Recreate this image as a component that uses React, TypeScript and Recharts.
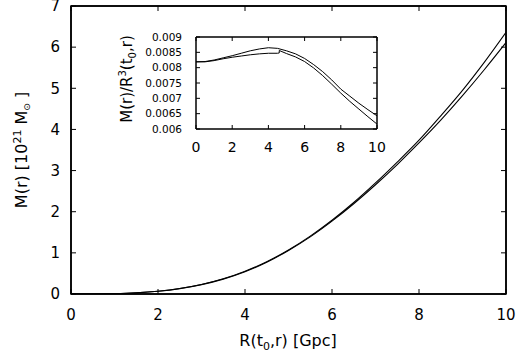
import React from 'react';
import { LineChart, Line, XAxis, YAxis, ReferenceArea } from 'recharts';

// Main panel: R(t0,r) in Gpc vs M(r) in 10^21 solar masses
const mainR = [0, 0.5, 1, 1.5, 2, 2.5, 3, 3.5, 4, 4.5, 5, 5.5, 6, 6.5, 7, 7.5, 8, 8.5, 9, 9.5, 10];
const massUpper = [0, 0.001, 0.0083, 0.028, 0.067, 0.132, 0.231, 0.369, 0.554, 0.786, 1.069, 1.406, 1.793, 2.224, 2.699, 3.206, 3.738, 4.33, 4.95, 5.63, 6.36];
const massLower = [0, 0.001, 0.0082, 0.028, 0.067, 0.131, 0.227, 0.362, 0.542, 0.772, 1.058, 1.389, 1.771, 2.194, 2.655, 3.147, 3.671, 4.225, 4.82, 5.45, 6.11];
const mainXTicks = [0, 2, 4, 6, 8, 10];
const mainYTicks = [0, 1, 2, 3, 4, 5, 6, 7];

// Inset: M(r)/R^3(t0,r)
const insetRUpper = [0, 0.5, 1, 1.5, 2, 2.5, 3, 3.5, 4, 4.5, 5, 5.5, 6, 6.5, 7, 7.5, 8, 8.5, 9, 9.5, 10];
const ratioUpper = [0.00819, 0.0082, 0.00825, 0.00832, 0.00839, 0.00847, 0.00855, 0.00861, 0.00865, 0.00863, 0.00855, 0.00845, 0.0083, 0.0081, 0.00787, 0.0076, 0.0073, 0.00707, 0.00684, 0.00663, 0.00643];
const insetRLower = [0, 0.5, 1, 1.5, 2, 2.5, 3, 3.5, 4, 4.5, 4.6, 4.6, 5, 5.5, 6, 6.5, 7, 7.5, 8, 8.5, 9, 9.5, 10];
const ratioLower = [0.00819, 0.00819, 0.00823, 0.00829, 0.00834, 0.00838, 0.00842, 0.00845, 0.00847, 0.00847, 0.00848, 0.00856, 0.00846, 0.00835, 0.0082, 0.00799, 0.00774, 0.00746, 0.00717, 0.0069, 0.00665, 0.0064, 0.00616];
const insetXTicks = [0, 2, 4, 6, 8, 10];
const insetYTicks = [0.006, 0.0065, 0.007, 0.0075, 0.008, 0.0085, 0.009];

const mainData = mainR.map((x, i) => ({ x, upper: massUpper[i], lower: massLower[i] }));
const insetUpperData = insetRUpper.map((x, i) => ({ x, v: ratioUpper[i] }));
const insetLowerData = insetRLower.map((x, i) => ({ x, v: ratioLower[i] }));

const FONT = 'DejaVu Sans';
const axisLine = { stroke: '#000', strokeWidth: 1.5 };

// inward ticks drawn together with labels
const bottomTick = (len: number, margin: number, fs: number) => (p: any) => (
  <g>
    <line x1={p.x} x2={p.x} y1={p.y - margin} y2={p.y - margin - len} stroke="#000" strokeWidth={1} />
    <text x={p.x} y={p.y} dy="0.71em" textAnchor="middle" fontFamily={FONT} fontSize={fs} fill="#000">
      {String(p.payload.value)}
    </text>
  </g>
);
const leftTick = (len: number, margin: number, fs: number) => (p: any) => (
  <g>
    <line x1={p.x + margin} x2={p.x + margin + len} y1={p.y} y2={p.y} stroke="#000" strokeWidth={1} />
    <text x={p.x} y={p.y} dy="0.355em" textAnchor="end" fontFamily={FONT} fontSize={fs} fill="#000">
      {String(p.payload.value)}
    </text>
  </g>
);
// top / right axes: tickSize 0 and tickMargin 0 put p at the plot edge
const topTick = (len: number) => (p: any) => (
  <g>
    <line x1={p.x} x2={p.x} y1={p.y} y2={p.y + len} stroke="#000" strokeWidth={1} />
  </g>
);
const rightTick = (len: number) => (p: any) => (
  <g>
    <line x1={p.x} x2={p.x - len} y1={p.y} y2={p.y} stroke="#000" strokeWidth={1} />
  </g>
);

const MainXTitle = () => (
  <text x={288} y={366} textAnchor="middle" fontFamily={FONT} fontSize={16} fill="#000">
    R(t<tspan dy={4} fontSize={11}>0</tspan><tspan dy={-4}>,r) [Gpc]</tspan>
  </text>
);

const MainYTitle = () => (
  <text x={0} y={0} transform="translate(27,170) rotate(-90)" textAnchor="middle" fontFamily={FONT} fontSize={16} fill="#000">
    M(r) [10<tspan dy={-6} fontSize={11}>21</tspan><tspan dy={6}> M</tspan><tspan dy={3} fontSize={9}>⊙</tspan><tspan dy={-3}> ]</tspan>
  </text>
);

const InsetYTitle = () => (
  <text x={0} y={0} transform="translate(32,59) rotate(-90)" textAnchor="middle" fontFamily={FONT} fontSize={15} fill="#000">
    M(r)/R<tspan dy={-6} fontSize={10}>3</tspan><tspan dy={6}>(t</tspan><tspan dy={4} fontSize={10}>0</tspan><tspan dy={-4}>,r)</tspan>
  </text>
);

export default function App() {
  return (
    <div style={{ position: 'absolute', left: 0, top: 0, width: 520, height: 353, background: '#fff', overflow: 'hidden' }}>
      <div style={{ position: 'absolute', left: 100, top: 20, width: 290, height: 140 }}>
        <LineChart width={290} height={140} margin={{ top: 7, right: 3, bottom: 0, left: 0 }}>
          <XAxis
            xAxisId="ib"
            type="number"
            dataKey="x"
            domain={[0, 10]}
            allowDataOverflow
            ticks={insetXTicks}
            interval={0}
            height={31}
            tickSize={0}
            tickMargin={13}
            axisLine={axisLine}
            tickLine={false}
            tick={bottomTick(4, 13, 14)}
          />
          <XAxis
            xAxisId="it"
            orientation="top"
            type="number"
            dataKey="x"
            domain={[0, 10]}
            allowDataOverflow
            ticks={insetXTicks}
            interval={0}
            height={10}
            tickSize={0}
            tickMargin={0}
            axisLine={axisLine}
            tickLine={false}
            tick={topTick(4)}
          />
          <YAxis
            yAxisId="il"
            type="number"
            domain={[0.006, 0.009]}
            allowDataOverflow
            ticks={insetYTicks}
            interval={0}
            width={96}
            tickSize={0}
            tickMargin={14}
            axisLine={axisLine}
            tickLine={false}
            tick={leftTick(4, 14, 10.5)}
            label={<InsetYTitle />}
          />
          <YAxis
            yAxisId="ir"
            orientation="right"
            type="number"
            domain={[0.006, 0.009]}
            allowDataOverflow
            ticks={insetYTicks}
            interval={0}
            width={10}
            tickSize={0}
            tickMargin={0}
            axisLine={axisLine}
            tickLine={false}
            tick={rightTick(4)}
          />
          <Line data={insetUpperData} xAxisId="ib" yAxisId="il" type="linear" dataKey="v" stroke="#000" strokeWidth={1} dot={false} isAnimationActive={false} />
          <Line data={insetLowerData} xAxisId="ib" yAxisId="il" type="linear" dataKey="v" stroke="#000" strokeWidth={1} dot={false} isAnimationActive={false} />
          <Line data={insetUpperData} xAxisId="it" yAxisId="ir" type="linear" dataKey="v" stroke="none" dot={false} activeDot={false} legendType="none" isAnimationActive={false} />
        </LineChart>
      </div>
      <div style={{ position: 'absolute', left: 0, top: -20, width: 550, height: 373, zIndex: 2 }}>
        <LineChart width={550} height={373} data={mainData} margin={{ top: 16, right: 30, bottom: 0, left: 0 }}>
          <XAxis
            xAxisId="mb"
            type="number"
            dataKey="x"
            domain={[0, 10]}
            allowDataOverflow
            ticks={mainXTicks}
            interval={0}
            height={59}
            tickSize={0}
            tickMargin={15}
            axisLine={axisLine}
            tickLine={false}
            tick={bottomTick(5, 15, 15)}
            label={<MainXTitle />}
          />
          <XAxis
            xAxisId="mt"
            orientation="top"
            type="number"
            dataKey="x"
            domain={[0, 10]}
            allowDataOverflow
            ticks={mainXTicks}
            interval={0}
            height={10}
            tickSize={0}
            tickMargin={0}
            axisLine={axisLine}
            tickLine={false}
            tick={topTick(5)}
          />
          <YAxis
            yAxisId="ml"
            type="number"
            domain={[0, 7]}
            allowDataOverflow
            ticks={mainYTicks}
            interval={0}
            width={71}
            tickSize={0}
            tickMargin={11}
            axisLine={axisLine}
            tickLine={false}
            tick={leftTick(5, 11, 15)}
            label={<MainYTitle />}
          />
          <YAxis
            yAxisId="mr"
            orientation="right"
            type="number"
            domain={[0, 7]}
            allowDataOverflow
            ticks={mainYTicks}
            interval={0}
            width={14}
            tickSize={0}
            tickMargin={0}
            axisLine={axisLine}
            tickLine={false}
            tick={rightTick(5)}
          />
          <ReferenceArea xAxisId="mb" yAxisId="ml" x1={0} x2={10} y1={0} y2={7} fill="none" fillOpacity={0} stroke="#000" strokeWidth={1.5} ifOverflow="visible" />
          <Line xAxisId="mb" yAxisId="ml" type="monotone" dataKey="upper" stroke="#000" strokeWidth={1.1} dot={false} isAnimationActive={false} />
          <Line xAxisId="mb" yAxisId="ml" type="monotone" dataKey="lower" stroke="#000" strokeWidth={1.1} dot={false} isAnimationActive={false} />
          <Line xAxisId="mt" yAxisId="mr" type="monotone" dataKey="upper" stroke="none" dot={false} activeDot={false} legendType="none" isAnimationActive={false} />
        </LineChart>
      </div>
    </div>
  );
}
